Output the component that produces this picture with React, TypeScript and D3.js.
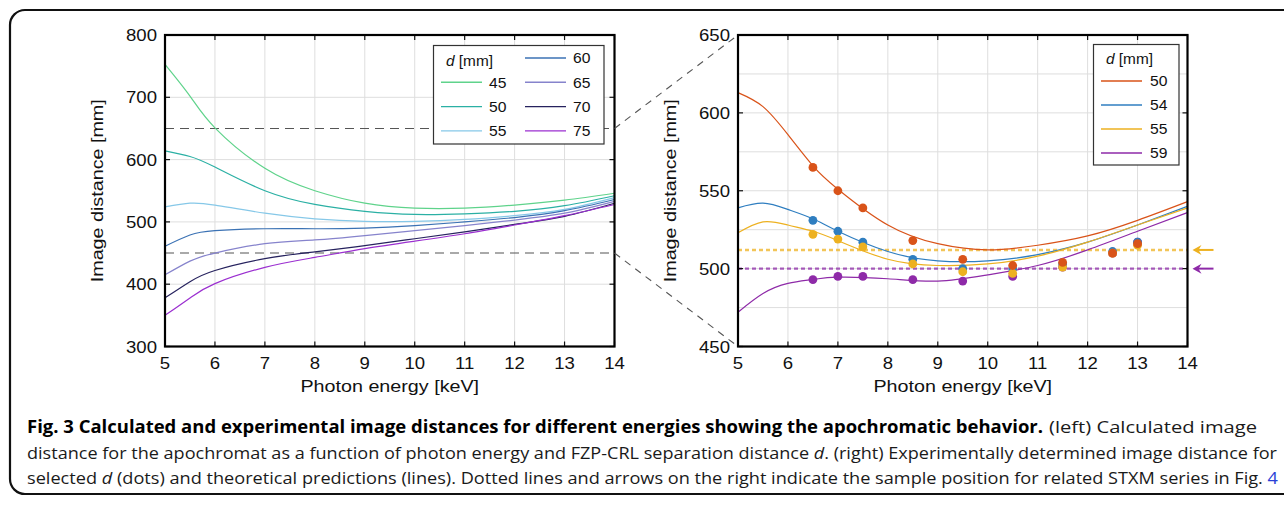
import React from "react";
import { scaleLinear, line, curveNatural, range } from "d3";

// left panel: calculated image distance vs photon energy for several d
const energies = [5, 5.5, 6, 7, 8, 9, 10, 11, 12, 13, 14];
const dValues = [45, 50, 55, 60, 65, 70, 75];
const d45 = [753, 702, 651, 586, 550, 530, 522, 522, 527, 535, 546];
const d50 = [614, 605, 588, 550, 528, 517, 512, 513, 517, 526, 542];
const d55 = [524, 530, 527, 514, 505, 501, 501, 504, 510, 520, 539];
const d60 = [461, 479, 486, 489, 489, 490, 494, 500, 507, 518, 536];
const d65 = [415, 437, 450, 465, 471, 478, 486, 494, 503, 514, 533];
const d70 = [378, 404, 422, 441, 452, 462, 473, 484, 496, 509, 530];
const d75 = [350, 378, 401, 427, 443, 457, 469, 481, 495, 510, 528];
const leftColors = ["#5fd38b", "#2bb0a4", "#86c8e8", "#3b72b4", "#8683cc", "#26225e", "#9b2fd0"];

// right panel: theory curves + measured dots
const energiesR = [5, 5.5, 6, 6.5, 7, 8, 9, 10, 11, 12, 13, 14];
const dRight = [50, 54, 55, 59];
const r50 = [613, 604, 586, 566, 551, 528, 516, 512, 515, 521, 531, 543];
const r54 = [539, 542, 538, 532, 524, 511, 505, 505, 509, 517, 528, 540];
const r55 = [523, 530, 528, 524, 518, 506, 502, 503, 508, 517, 528, 539];
const r59 = [472, 484, 490.5, 493, 494.5, 493.5, 492, 496, 502, 512, 524, 536];
const dotE = [6.5, 7, 7.5, 8.5, 9.5, 10.5, 11.5, 12.5, 13];
const p50 = [565, 550, 539, 518, 506, 502, 504, 510, 516];
const p54 = [531, 524, 517, 506, 500, 500, 503, 511, 517];
const p55 = [522, 519, 514, 503, 498, 497, 501, 510, 515];
const p59 = [493, 495, 495, 493, 492, 495, 501, 510, 517];
const rightColors = ["#d95319", "#2f7ec0", "#edb120", "#8e2aa8"];
const samplePos = [512, 500]; // dotted lines (yellow, purple)

const font = "Liberation Sans, Arial, sans-serif";
const SX = 1.16; // figure text looks horizontally stretched

const xL = scaleLinear().domain([5, 14]).range([165, 614.5]);
const yL = scaleLinear().domain([300, 800]).range([346.5, 35]);
const xR = scaleLinear().domain([5, 14]).range([738, 1187.5]);
const yR = scaleLinear().domain([450, 650]).range([346.5, 35]);

function T({ x, y, size, anchor = "start", rot = 0, sx = SX, children }) {
  return (
    <text transform={`translate(${x},${y}) rotate(${rot}) scale(${sx},1)`} fontSize={size} textAnchor={anchor} fill="#111">
      {children}
    </text>
  );
}

function Grid({ x, y, yGrid }) {
  const [x0, x1] = x.range();
  const [y1, y0] = y.range();
  return (
    <g>
      {range(5, 15).map((t) => (
        <line key={"gx" + t} x1={x(t)} x2={x(t)} y1={y0} y2={y1} stroke="#dedede" />
      ))}
      {yGrid.map((t) => (
        <line key={"gy" + t} x1={x0} x2={x1} y1={y(t)} y2={y(t)} stroke="#dedede" />
      ))}
    </g>
  );
}

function Axes({ x, y, yTicks, label }) {
  const [x0, x1] = x.range();
  const [y1, y0] = y.range();
  return (
    <g fontFamily={font}>
      {range(5, 15).map((t) => (
        <g key={"tx" + t}>
          <line x1={x(t)} x2={x(t)} y1={y1} y2={y1 - 5} stroke="#111" strokeWidth={1.2} />
          <line x1={x(t)} x2={x(t)} y1={y0} y2={y0 + 5} stroke="#111" strokeWidth={1.2} />
          <T x={x(t)} y={y1 + 22} size={16} anchor="middle">{t}</T>
        </g>
      ))}
      {yTicks.map((t) => (
        <g key={"ty" + t}>
          <line x1={x0} x2={x0 + 5} y1={y(t)} y2={y(t)} stroke="#111" strokeWidth={1.2} />
          <line x1={x1} x2={x1 - 5} y1={y(t)} y2={y(t)} stroke="#111" strokeWidth={1.2} />
          <T x={x0 - 8} y={y(t) + 6} size={16} anchor="end">{t}</T>
        </g>
      ))}
      <rect x={x0} y={y0} width={x1 - x0} height={y1 - y0} fill="none" stroke="#000" strokeWidth={2.2} />
      <T x={(x0 + x1) / 2} y={y1 + 45} size={17} anchor="middle">Photon energy [keV]</T>
      <T x={label} y={(y0 + y1) / 2} size={17} anchor="middle" rot={-90}>Image distance [mm]</T>
    </g>
  );
}

export default function App() {
  const leftSeries = [d45, d50, d55, d60, d65, d70, d75];
  const rightSeries = [r50, r54, r55, r59];
  const dotSeries = [p50, p54, p55, p59];

  const lineL = line<number>().x((_, i) => xL(energies[i])).y((d) => yL(d)).curve(curveNatural);
  const lineR = line<number>().x((_, i) => xR(energiesR[i])).y((d) => yR(d)).curve(curveNatural);

  const arrowTip = xR(14) + 5;

  return (
    <svg width={1284} height={505} style={{ position: "absolute", left: 0, top: 0 }}>
      <rect x={0} y={0} width={1284} height={505} fill="#fff" />
      <rect x={10} y={10} width={1300} height={484} rx={15} fill="none" stroke="#111" strokeWidth={2.2} />

      {/* left panel */}
      <Grid x={xL} y={yL} yGrid={range(400, 800, 100)} />
      {[650, 450].map((v) => (
        <line key={"dl" + v} x1={xL(5)} x2={xL(14)} y1={yL(v)} y2={yL(v)} stroke="#555" strokeWidth={1.1} strokeDasharray="9 6" />
      ))}
      {leftSeries.map((s, i) => (
        <path key={"l" + i} d={lineL(s)} fill="none" stroke={leftColors[i]} strokeWidth={1.2} />
      ))}
      <Axes x={xL} y={yL} yTicks={range(300, 801, 100)} label={103} />

      {/* connectors */}
      {[650, 450].map((v) => (
        <line key={"c" + v} x1={xL(14)} y1={yL(v)} x2={xR(5)} y2={yR(v)} stroke="#555" strokeWidth={1.1} strokeDasharray="7 6" />
      ))}

      {/* left legend */}
      <g fontFamily={font}>
        <rect x={433.5} y={45.5} width={170.5} height={98.5} fill="#fff" stroke="#333" strokeWidth={1.2} />
        <T x={446} y={66} size={14} sx={1.1}>
          <tspan fontStyle="italic">d</tspan> [mm]
        </T>
        {dValues.map((d, i) => {
          const col = i < 3 ? 0 : 1;
          const row = i < 3 ? i + 1 : i - 3;
          const lx = col === 0 ? 441 : 525;
          const ly = 58 + row * 24.3;
          return (
            <g key={"lg" + d}>
              <line x1={lx} x2={lx + 41} y1={ly} y2={ly} stroke={leftColors[i]} strokeWidth={1.4} />
              <T x={lx + 48} y={ly + 5.2} size={14} sx={1.12}>{d}</T>
            </g>
          );
        })}
      </g>

      {/* right panel */}
      <Grid x={xR} y={yR} yGrid={range(475, 650, 25)} />
      {samplePos.map((v, i) => (
        <line key={"sp" + v} x1={xR(5)} x2={xR(14)} y1={yR(v)} y2={yR(v)} stroke={rightColors[i === 0 ? 2 : 3]}
          strokeOpacity={0.75} strokeWidth={2.4} strokeDasharray="4 3" />
      ))}
      {rightSeries.map((s, i) => (
        <path key={"r" + i} d={lineR(s)} fill="none" stroke={rightColors[i]} strokeWidth={1.2} />
      ))}
      {[3, 1, 2, 0].map((k) => (
        <g key={"dots" + k}>
          {dotSeries[k].map((v, j) => (
            <circle key={j} cx={xR(dotE[j])} cy={yR(v)} r={4.4} fill={rightColors[k]} />
          ))}
        </g>
      ))}
      <Axes x={xR} y={yR} yTicks={range(450, 651, 50)} label={676} />

      {/* arrows */}
      {samplePos.map((v, i) => {
        const c = rightColors[i === 0 ? 2 : 3];
        const yy = yR(v);
        return (
          <g key={"ar" + v}>
            <line x1={arrowTip + 5} x2={arrowTip + 21} y1={yy} y2={yy} stroke={c} strokeWidth={2} />
            <path d={`M${arrowTip},${yy} L${arrowTip + 9},${yy - 5} L${arrowTip + 6},${yy} L${arrowTip + 9},${yy + 5} Z`} fill={c} />
          </g>
        );
      })}

      {/* right legend */}
      <g fontFamily={font}>
        <rect x={1093.5} y={44.5} width={85.5} height={120.5} fill="#fff" stroke="#333" strokeWidth={1.2} />
        <T x={1106} y={64} size={14} sx={1.1}>
          <tspan fontStyle="italic">d</tspan> [mm]
        </T>
        {dRight.map((d, i) => {
          const ly = 81 + i * 24;
          return (
            <g key={"rg" + d}>
              <line x1={1101} x2={1142} y1={ly} y2={ly} stroke={rightColors[i]} strokeWidth={1.4} />
              <T x={1150} y={ly + 5.2} size={14} sx={1.12}>{d}</T>
            </g>
          );
        })}
      </g>

      {/* caption */}
      <g fontFamily="Open Sans, Noto Sans, sans-serif" fontSize={17} fill="#1a1a1a">
        <text x={27} y={433} fontWeight={700} fill="#000" textLength={1016} lengthAdjust="spacingAndGlyphs">
          Fig. 3 Calculated and experimental image distances for different energies showing the apochromatic behavior.
        </text>
        <text x={1049} y={433} textLength={208} lengthAdjust="spacingAndGlyphs">(left) Calculated image</text>
        <text x={27} y={459} textLength={1250} lengthAdjust="spacingAndGlyphs">
          distance for the apochromat as a function of photon energy and FZP-CRL separation distance{" "}
          <tspan fontStyle="italic">d</tspan>. (right) Experimentally determined image distance for
        </text>
        <text x={27} y={484} textLength={1251} lengthAdjust="spacingAndGlyphs">
          selected <tspan fontStyle="italic">d</tspan> (dots) and theoretical predictions (lines). Dotted lines and arrows on the
          right indicate the sample position for related STXM series in Fig. <tspan fill="#2a3fd6">4</tspan>
        </text>
      </g>
    </svg>
  );
}
